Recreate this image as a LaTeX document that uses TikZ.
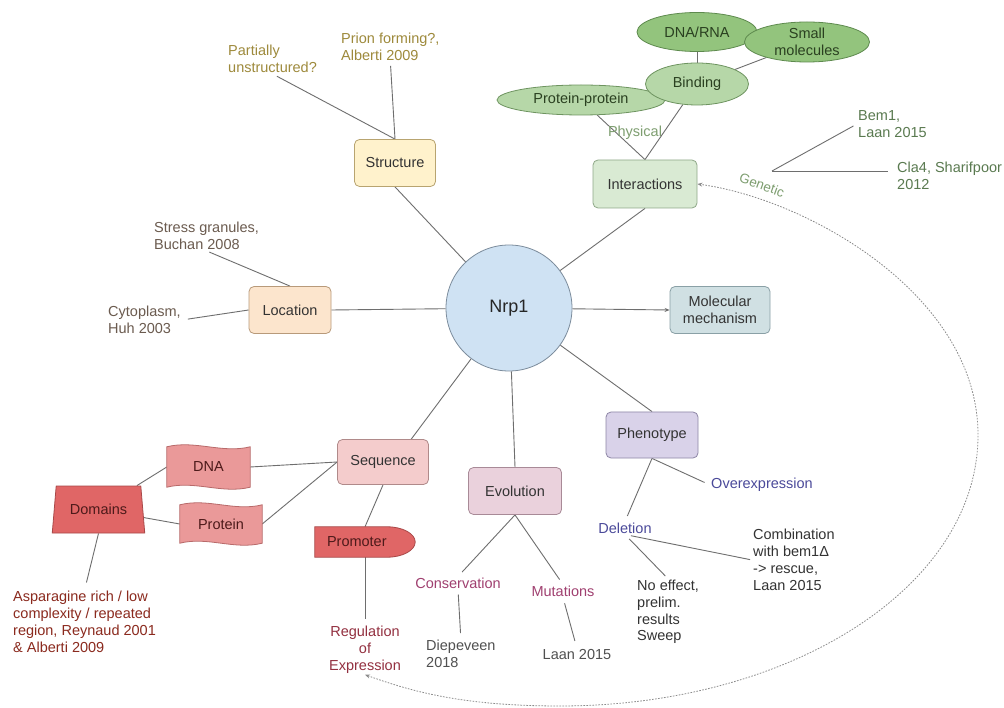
\documentclass[tikz,border=0pt]{standalone}
\usepackage{fontspec}
\setmainfont{Liberation Sans}
\usetikzlibrary{shapes.geometric,arrows.meta,calc}
\pgfdeclarelayer{linklayer}
\pgfdeclarelayer{shapelayer}
\pgfsetlayers{linklayer,shapelayer,main}
\definecolor{cStruct}{HTML}{FFF2CC}\definecolor{cStructD}{HTML}{B8A470}
\definecolor{cLoc}{HTML}{FCE5CD}\definecolor{cLocD}{HTML}{B89A7A}
\definecolor{cInter}{HTML}{D9EAD3}\definecolor{cInterD}{HTML}{8FA888}
\definecolor{cMol}{HTML}{D0E0E3}\definecolor{cMolD}{HTML}{8AA0A6}
\definecolor{cSeq}{HTML}{F4CCCC}\definecolor{cSeqD}{HTML}{B08A8A}
\definecolor{cEvo}{HTML}{EAD1DC}\definecolor{cEvoD}{HTML}{A88A97}
\definecolor{cPheno}{HTML}{D9D2E9}\definecolor{cPhenoD}{HTML}{8E86A6}
\definecolor{cNrp}{HTML}{CFE2F3}\definecolor{cNrpD}{HTML}{7C8C9C}
\definecolor{cGreenL}{HTML}{B6D7A8}\definecolor{cGreenLD}{HTML}{6E9460}
\definecolor{cGreenD}{HTML}{93C47D}\definecolor{cGreenDD}{HTML}{5E8A4E}
\definecolor{cRed}{HTML}{E06666}\definecolor{cRedD}{HTML}{A84848}
\definecolor{cPink}{HTML}{EA9999}\definecolor{cPinkD}{HTML}{B86A6A}
\definecolor{cLine}{HTML}{6E6E6E}
\definecolor{cBoxT}{HTML}{333333}
\definecolor{cStructT}{HTML}{9E8A3C}
\definecolor{cLocT}{HTML}{6B5B4F}
\definecolor{cInterT}{HTML}{5A7A50}
\definecolor{cPhysT}{HTML}{7E9E70}
\definecolor{cSeqT}{HTML}{8B2A1E}
\definecolor{cRegT}{HTML}{933040}
\definecolor{cEvoT}{HTML}{A04070}
\definecolor{cGrayT}{HTML}{505050}
\definecolor{cPhenoT}{HTML}{4B4A9A}
\definecolor{cDarkT}{HTML}{333333}
\definecolor{cRedT}{HTML}{4D1A1A}
\definecolor{cGreenT}{HTML}{2A4020}
\newcommand\mydfont{\fontsize{14.5}{16.8}\selectfont}
\begin{document}
\begin{tikzpicture}[x=1pt,y=-1pt,
  >={Stealth[length=5pt,width=4pt]},
  box/.style={rectangle, rounded corners=5pt, line width=0.8pt, inner sep=2pt, align=center, text=cBoxT, font=\mydfont},
  ell/.style={ellipse, line width=0.8pt, inner sep=0pt, align=center, text=cGreenT, font=\mydfont},
  leaf/.style={inner sep=1pt, font=\mydfont, align=left},
  shapetxt/.style={inner sep=0pt, font=\mydfont, text=cRedT},
  link/.style={draw=cLine, line width=0.9pt},
  genetic/.style={draw=cLine!80, line width=0.8pt, dash pattern=on 1.6pt off 1.4pt}
]
\useasboundingbox (0,0) rectangle (1004,708);
\begin{pgfonlayer}{linklayer}
\fill[white] (0,0) rectangle (1004,708);
\end{pgfonlayer}

% hub
\node[circle, minimum size=126pt, inner sep=0pt, fill=cNrp, draw=cNrpD, line width=0.8pt, font=\fontsize{18}{20}\selectfont, text=black!85] (nrp) at (509,308) {Nrp1};

% main boxes
\node[box, fill=cStruct, draw=cStructD, minimum width=81pt, minimum height=47pt] (struct) at (395,163) {Structure};
\node[box, fill=cLoc, draw=cLocD, minimum width=82pt, minimum height=47pt] (loc) at (290,310) {Location};
\node[box, fill=cInter, draw=cInterD, minimum width=104pt, minimum height=48pt] (inter) at (645,184) {Interactions};
\node[box, fill=cMol, draw=cMolD, minimum width=100pt, minimum height=47pt] (mol) at (720,310) {Molecular\\mechanism};
\node[box, fill=cSeq, draw=cSeqD, minimum width=91pt, minimum height=45pt] (seq) at (383,462) {Sequence};
\node[box, fill=cEvo, draw=cEvoD, minimum width=93pt, minimum height=47pt] (evo) at (515,491) {Evolution};
\node[box, fill=cPheno, draw=cPhenoD, minimum width=92pt, minimum height=46pt] (pheno) at (652,435) {Phenotype};

% interaction ellipses
\node[ell, fill=cGreenL, draw=cGreenLD, minimum width=168pt, minimum height=30pt] (pp) at (581,100) {Protein-protein};
\node[ell, fill=cGreenL, draw=cGreenLD, minimum width=103pt, minimum height=42pt] (bind) at (697,84) {Binding};
\node[ell, fill=cGreenD, draw=cGreenDD, minimum width=120pt, minimum height=39pt] (dnarna) at (697,32) {DNA/RNA};
\node[ell, fill=cGreenD, draw=cGreenDD, minimum width=125pt, minimum height=40pt] (small) at (807,42) {Small\\molecules};

% sequence shapes
\node[trapezium, trapezium angle=76, trapezium stretches=true, minimum width=93pt, minimum height=47pt, inner sep=0pt, fill=cRed, draw=cRedD, line width=0.8pt, font=\mydfont, text=cRedT] (dom) at (98.5,509.5) {Domains};
\node[shapetxt, minimum width=83pt, minimum height=40pt] (dna) at (208.5,467) {DNA};
\node[shapetxt, minimum width=82pt, minimum height=38pt] (prot) at (221,524) {Protein};
\node[shapetxt, minimum width=100pt, minimum height=30pt, text width=88pt, align=left] (prom) at (365,542) {\hspace*{6pt}Promoter};
\begin{pgfonlayer}{shapelayer}
\filldraw[fill=cPink, draw=cPinkD, line width=0.8pt] (dna.north west) .. controls +(28,-7) and +(-28,7) .. (dna.north east) -- (dna.south east) .. controls +(-28,7) and +(28,-7) .. (dna.south west) -- cycle;
\filldraw[fill=cPink, draw=cPinkD, line width=0.8pt] (prot.north west) .. controls +(28,-7) and +(-28,7) .. (prot.north east) -- (prot.south east) .. controls +(-28,7) and +(28,-7) .. (prot.south west) -- cycle;
\filldraw[fill=cRed, draw=cRedD, line width=0.8pt] (prom.south west) -- (prom.north west) -- ($(prom.north east)+(-28,0)$) .. controls +(15.5,0) and +(0,-8.3) .. (prom.east) .. controls +(0,8.3) and +(15.5,0) .. ($(prom.south east)+(-28,0)$) -- cycle;
\end{pgfonlayer}

% leaves: structure
\node[leaf, text=cStructT, anchor=west] (partial) at (227,59) {Partially\\unstructured?};
\node[leaf, text=cStructT, anchor=west] (prion) at (340,47) {Prion forming?,\\Alberti 2009};
% leaves: location
\node[leaf, text=cLocT, anchor=west] (stress) at (153,236) {Stress granules,\\Buchan 2008};
\node[leaf, text=cLocT, anchor=west] (cyto) at (107,320) {Cytoplasm,\\Huh 2003};
% leaves: interactions
\node[leaf, text=cPhysT] (phys) at (635,133) {Physical};
\node[leaf, text=cPhysT, rotate=-20, font=\fontsize{13.5}{15}\selectfont] (gen) at (762,185) {Genetic};
\node[leaf, text=cInterT, anchor=west] (bem) at (857,124) {Bem1,\\Laan 2015};
\node[leaf, text=cInterT, anchor=west] (cla) at (896,176) {Cla4, Sharifpoor\\2012};
\coordinate (gapex) at (772,171);
% leaves: sequence
\node[leaf, text=cSeqT, anchor=west] (asp) at (12,622) {Asparagine rich / low\\complexity / repeated\\region, Reynaud 2001\\\& Alberti 2009};
\node[leaf, text=cRegT, align=center] (reg) at (365,650) {Regulation\\of\\Expression};
% leaves: evolution
\node[leaf, text=cEvoT] (cons) at (458,583) {Conservation};
\node[leaf, text=cEvoT] (mut) at (563,591) {Mutations};
\node[leaf, text=cGrayT, anchor=west] (diep) at (425,654) {Diepeveen\\2018};
\node[leaf, text=cGrayT] (laan) at (577,655) {Laan 2015};
% leaves: phenotype
\node[leaf, text=cPhenoT] (over) at (762,485) {Overexpression};
\node[leaf, text=cPhenoT] (del) at (625,528) {Deletion};
\node[leaf, text=cDarkT, anchor=west] (comb) at (752,560) {Combination\\with bem1Δ\\-> rescue,\\Laan 2015};
\node[leaf, text=cDarkT, anchor=west] (noeff) at (636,612) {No effect,\\prelim.\\results\\Sweep};

% genetic curve anchors
\coordinate (gR) at (978,435);
\coordinate (gB) at (560,706);

\begin{pgfonlayer}{linklayer}
\draw[link] (nrp) -- (struct.south);
\draw[link] (nrp) -- (loc.east);
\draw[link] (nrp) -- (inter.south);
\draw[link] (nrp) -- (seq.39);
\draw[link] (nrp) -- (evo.north);
\draw[link] (nrp) -- (pheno.north);
\draw[link, ->] (nrp) -- (mol.west);
% structure
\draw[link, shorten <=5pt] (partial.south) -- (struct.north);
\draw[link, shorten <=4pt] (prion.south) -- (struct.north);
% location
\draw[link, shorten <=3pt] (stress.south) -- (loc.north);
\draw[link, shorten <=6pt] (cyto.east) -- (loc.west);
% interactions
\draw[link] (pp) -- (inter.north);
\draw[link] (bind) -- (inter.north);
\draw[link] (dnarna) -- (bind);
\draw[link] (small) -- (bind);
\draw[link, shorten >=4pt] (gapex) -- (bem.west);
\draw[link, shorten >=8pt] (gapex) -- (cla.west |- gapex);
% sequence
\draw[link] (dom) -- (dna.west);
\draw[link] (dom) -- (prot.west);
\draw[link] (dna.east) -- (seq.west);
\draw[link] (prot.east) -- (seq.west);
\draw[link] (seq.south) -- (prom.north);
\draw[link, shorten >=6pt] (prom.south) -- (reg.north);
\draw[link, shorten >=8pt] (dom.south) -- (asp.north);
% evolution
\draw[link, shorten >=6pt] (evo.south) -- (cons.north);
\draw[link, shorten >=6pt] (evo.south) -- (mut.north);
\draw[link, shorten <=5pt, shorten >=6pt] (cons.south) -- (diep.north);
\draw[link, shorten <=6pt, shorten >=8pt] (mut.south) -- (laan.north);
% phenotype
\draw[link, shorten >=6pt] (pheno.south) -- (del.north);
\draw[link, shorten >=6pt] (pheno.south) -- (over.west);
\draw[link, shorten <=6pt, shorten >=2pt] (del.south) -- (comb.west);
\draw[link, shorten <=6pt, shorten >=4pt] (del.south) -- (noeff.north);
% genetic dashed curve
\draw[genetic, <->] (reg.south) .. controls +(45,16) and +(-100,0) .. (gB) .. controls +(230,0) and +(0,152) .. (gR) .. controls +(0,-140) and +(110,15) .. (inter.east);
\end{pgfonlayer}
\end{tikzpicture}
\end{document}
